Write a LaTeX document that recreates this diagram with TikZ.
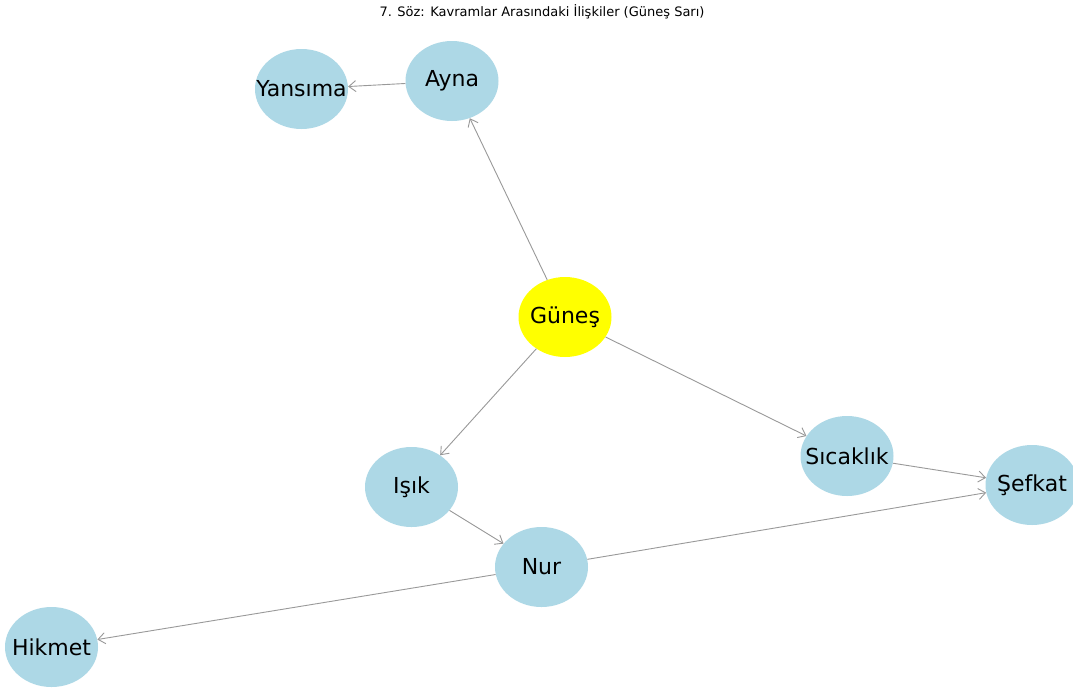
\documentclass[tikz,border=0pt]{standalone}
\usepackage{fontspec}
\setmainfont{DejaVu Sans}
\usetikzlibrary{shapes.geometric,arrows.meta}
\definecolor{lblue}{HTML}{ADD8E6}
\definecolor{sunyellow}{HTML}{FFFF00}
\definecolor{edgegray}{HTML}{999999}
\newcommand{\clabel}[1]{\makebox[0pt]{#1}}
\tikzset{
  concept/.style={ellipse,fill=lblue,minimum width=93pt,minimum height=80pt,inner sep=0pt,font=\fontsize{22}{24}\selectfont,text=black},
  sun/.style={concept,fill=sunyellow},
  rel/.style={draw=edgegray,line width=0.9pt,-{Straight Barb[length=7pt,width=11pt,line width=0.9pt]}}
}
\begin{document}
\begin{tikzpicture}[x=1pt,y=-1pt]
\useasboundingbox (0,0) rectangle (1073,689);
\clip (0,0) rectangle (1073,689);
\fill[white] (0,0) rectangle (1073,689);
\node[font=\fontsize{13}{15}\selectfont] (title) at (542,12) {7. Söz: Kavramlar Arasındaki İlişkiler (Güneş Sarı)};
\node[sun] (gunes) at (565,317) {\clabel{Güneş}};
\node[concept] (ayna) at (452,81) {\clabel{Ayna}};
\node[concept] (yansima) at (301.5,89) {\clabel{Yansıma}};
\node[concept] (isik) at (411.5,487) {\clabel{Işık}};
\node[concept] (sicaklik) at (847,456) {\clabel{Sıcaklık}};
\node[concept] (sefkat) at (1032,485) {\clabel{Şefkat}};
\node[concept] (nur) at (541.5,567) {\clabel{Nur}};
\node[concept] (hikmet) at (51.5,647) {\clabel{Hikmet}};
\draw[rel] (gunes) -- (ayna);
\draw[rel] (ayna) -- (yansima);
\draw[rel] (gunes) -- (isik);
\draw[rel] (gunes) -- (sicaklik);
\draw[rel] (sicaklik) -- (sefkat);
\draw[rel] (isik) -- (nur);
\draw[rel] (nur) -- (sefkat);
\draw[rel] (nur) -- (hikmet);
\end{tikzpicture}
\end{document}
